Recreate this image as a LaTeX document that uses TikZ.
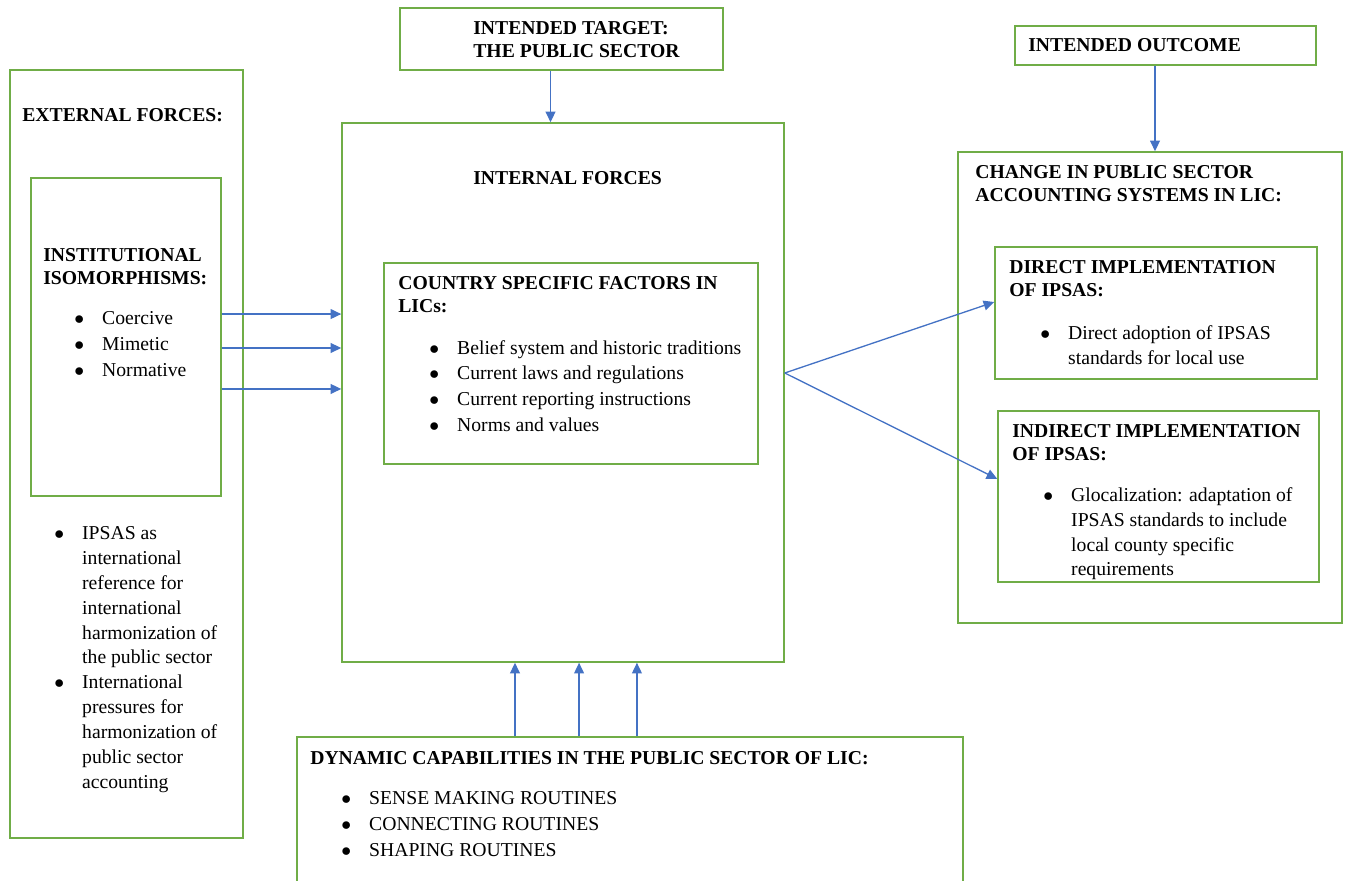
\documentclass[tikz,border=0pt]{standalone}
\usepackage{fontspec}
\setmainfont{Liberation Serif}
\usetikzlibrary{arrows.meta,fit,calc}
\definecolor{boxgreen}{HTML}{70AD47}
\definecolor{arrblue}{HTML}{4472C4}
\newcommand\blt{\makebox[17pt][l]{$\bullet$}}
\newcommand\ind{\hspace*{17pt}}

\tikzset{
  box/.style={draw=boxgreen, line width=0.9pt, inner sep=0pt},
  txt/.style={inner sep=0pt, anchor=north west, align=left, font=\fontsize{12}{15.2}\selectfont},
  ttl/.style={txt, font=\fontsize{12}{14.4}\selectfont\bfseries},
  arr/.style={draw=arrblue, line width=0.8pt, -{Triangle[length=6.5pt,width=6pt]}}
}

\begin{document}
\begin{tikzpicture}[x=0.61pt, y=-0.61pt]
  \useasboundingbox (0,0) rectangle (1346,881);

  % boxes
  \node[box, fit={(10,70) (243,838)}] (ext) {};
  \node[box, fit={(31,178) (221,496)}] (inst) {};
  \node[box, fit={(342,123) (784,662)}] (internal) {};
  \node[box, fit={(400,8) (723,70)}] (target) {};
  \node[box, fit={(384,263) (758,464)}] (ctry) {};
  \node[box, fit={(1015,26) (1316,65)}] (outcome) {};
  \node[box, fit={(958,152) (1342,623)}] (change) {};
  \node[box, fit={(995,247) (1317,379)}] (direct) {};
  \node[box, fit={(998,411) (1319,582)}] (indirect) {};
  \node[box, fit={(297,737) (963,900)}] (dyn) {};

  % texts
  \node[ttl] (extT) at (22,108) {EXTERNAL FORCES:};
  \node[ttl] (instT) at (43,248) {INSTITUTIONAL\\ISOMORPHISMS:};
  \node[txt] (instL) at (74,311) {\blt Coercive\\[0.6pt] \blt Mimetic\\[0.6pt] \blt Normative};
  \node[txt] (ipsasL) at (54,526) {\blt IPSAS as\\ \ind international\\ \ind reference for\\
    \ind international\\ \ind harmonization of\\ \ind the public sector\\
    \blt International\\ \ind pressures for\\ \ind harmonization of\\
    \ind public sector\\ \ind accounting};

  \node[ttl] (targetT) at (473,21) {INTENDED TARGET:\\THE PUBLIC SECTOR};
  \node[ttl] (internalT) at (473,171) {INTERNAL FORCES};
  \node[ttl] (ctryT) at (398,276) {COUNTRY SPECIFIC FACTORS IN\\LICs:};
  \node[txt] (ctryL) at (429,340) {\blt Belief system and historic traditions\\[0.5pt]
    \blt Current laws and regulations\\[0.5pt] \blt Current reporting instructions\\[0.5pt]
    \blt Norms and values};

  \node[ttl] (outcomeT) at (1028,38) {INTENDED OUTCOME};
  \node[ttl] (changeT) at (975,165) {CHANGE IN PUBLIC SECTOR\\ACCOUNTING SYSTEMS IN LIC:};
  \node[ttl] (directT) at (1009,260) {DIRECT IMPLEMENTATION\\OF IPSAS:};
  \node[txt] (directL) at (1040,325) {\blt Direct adoption of IPSAS\\ \ind standards for local use};
  \node[ttl] (indirectT) at (1012,424) {INDIRECT IMPLEMENTATION\\OF IPSAS:};
  \node[txt] (indirectL) at (1043,487) {\blt Glocalization: adaptation of\\
    \ind IPSAS standards to include\\ \ind local county specific\\ \ind requirements};

  \node[ttl] (dynT) at (310,751) {DYNAMIC CAPABILITIES IN THE PUBLIC SECTOR OF LIC:};
  \node[txt] (dynL) at (341,791) {\blt SENSE MAKING ROUTINES\\[0.6pt]
    \blt CONNECTING ROUTINES\\[0.6pt] \blt SHAPING ROUTINES};

  % connectors
  \draw[arr] ([xshift=-6.7pt]target.south) coordinate (t1) -- (t1 |- internal.north);
  \draw[arr] ([xshift=-6.4pt]outcome.south) coordinate (o1) -- (o1 |- change.north);
  \foreach \dy in {14,-6.7,-31.7}
    \draw[arr] ([yshift=\dy pt]inst.east) coordinate (a) -- (a -| internal.west);
  \foreach \dx in {-29.3,9.8,45.1}
    \draw[arr] ([xshift=\dx pt]internal.south) coordinate (b) ++(0,0) (b |- dyn.north) -- (b);
  \coordinate (split) at ([yshift=11.9pt]internal.east);
  \draw[arr] (split) -- ([yshift=6.7pt]direct.west);
  \draw[arr] (split) -- ([yshift=10.7pt]indirect.west);
\end{tikzpicture}
\end{document}
